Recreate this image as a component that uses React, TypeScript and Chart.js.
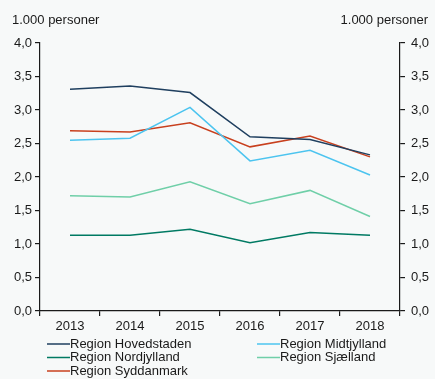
import React, { useEffect, useRef } from "react";
import { Chart, registerables } from "chart.js";

Chart.register(...registerables);

const years = ["2013", "2014", "2015", "2016", "2017", "2018"];
const hovedstaden = [3.31, 3.36, 3.26, 2.6, 2.56, 2.33];
const midtjylland = [2.55, 2.58, 3.04, 2.24, 2.4, 2.03];
const nordjylland = [1.13, 1.13, 1.22, 1.02, 1.17, 1.13];
const sjaelland = [1.72, 1.7, 1.93, 1.6, 1.8, 1.41];
const syddanmark = [2.69, 2.67, 2.81, 2.45, 2.61, 2.3];
const seriesNames = [
  "Region Hovedstaden",
  "Region Midtjylland",
  "Region Nordjylland",
  "Region Sjælland",
  "Region Syddanmark",
];
const unitLabel = "1.000 personer";

const FONT = "'Liberation Sans', Arial, sans-serif";
const TEXT = "#1a1a1a";

export default function App() {
  const ref = useRef<HTMLCanvasElement>(null);
  useEffect(() => {
    document.body.style.margin = "0";
    document.body.style.background = "#f7f9f9";
    const colors = ["#1f3f5f", "#4cc4ef", "#007a63", "#6fcfa8", "#c8401e"];
    const data = [hovedstaden, midtjylland, nordjylland, sjaelland, syddanmark];
    const bgPlugin = {
      id: "bg",
      beforeDraw(c: any) {
        const ctx = c.ctx;
        ctx.save();
        ctx.fillStyle = "#f7f9f9";
        ctx.fillRect(0, 0, c.width, c.height);
        ctx.restore();
      },
    };
    const extras = {
      id: "extras",
      afterDraw(c: any) {
        const ctx = c.ctx;
        ctx.save();
        ctx.font = `13px ${FONT}`;
        ctx.fillStyle = TEXT;
        ctx.textBaseline = "middle";
        ctx.textAlign = "left";
        ctx.fillText(unitLabel, 12, 20);
        ctx.textAlign = "right";
        ctx.fillText(unitLabel, 428, 20);
        // legend
        const pos = [
          [45, 344],
          [255, 344],
          [45, 357.5],
          [255, 357.5],
          [45, 371],
        ];
        ctx.textAlign = "left";
        seriesNames.forEach((n, i) => {
          const [x, y] = pos[i];
          ctx.strokeStyle = colors[i];
          ctx.lineWidth = 1.5;
          ctx.beginPath();
          ctx.moveTo(x + 2, y);
          ctx.lineTo(x + 25, y);
          ctx.stroke();
          ctx.fillStyle = TEXT;
          ctx.fillText(n, x + 25, y);
        });
        ctx.restore();
      },
    };
    const yAxis = (position: string, width: number, pad: number) => ({
      type: "linear",
      position,
      min: 0,
      max: 4,
      afterFit(s: any) {
        s.width = width;
      },
      border: { display: true, color: "#1a1a1a", width: 1.2 },
      grid: {
        drawOnChartArea: false,
        drawTicks: true,
        tickLength: 5,
        color: "#1a1a1a",
        lineWidth: 1.2,
      },
      ticks: {
        stepSize: 0.5,
        padding: pad,
        color: TEXT,
        font: { family: FONT, size: 13 },
        callback: (v: any) => Number(v).toFixed(1).replace(".", ","),
      },
    });
    const chart = new Chart(ref.current!, {
      type: "line",
      data: {
        labels: years,
        datasets: data.map((d, i) => ({
          label: seriesNames[i],
          data: d,
          borderColor: colors[i],
          backgroundColor: colors[i],
          borderWidth: 1.5,
          pointRadius: 0,
          tension: 0,
        })),
      },
      options: {
        responsive: false,
        animation: false,
        layout: { padding: { top: 43, bottom: 48, left: 0, right: 0 } },
        plugins: { legend: { display: false }, tooltip: { enabled: false } },
        scales: {
          x: {
            type: "category",
            offset: true,
            afterFit(s: any) {
              s.height = 20;
            },
            border: { display: true, color: "#1a1a1a", width: 1.2 },
            grid: {
              offset: true,
              drawOnChartArea: false,
              drawTicks: true,
              tickLength: 5,
              color: "#1a1a1a",
              lineWidth: 1.2,
            },
            ticks: {
              padding: 3,
              color: TEXT,
              maxRotation: 0,
              font: { family: FONT, size: 13 },
            },
          },
          y: yAxis("left", 40, 3) as any,
          y2: yAxis("right", 35, 6) as any,
        },
      } as any,
      plugins: [bgPlugin, extras],
    });
    return () => chart.destroy();
  }, []);
  return (
    <div style={{ width: 435, height: 379 }}>
      <canvas ref={ref} width={435} height={379} style={{ display: "block" }} />
    </div>
  );
}
